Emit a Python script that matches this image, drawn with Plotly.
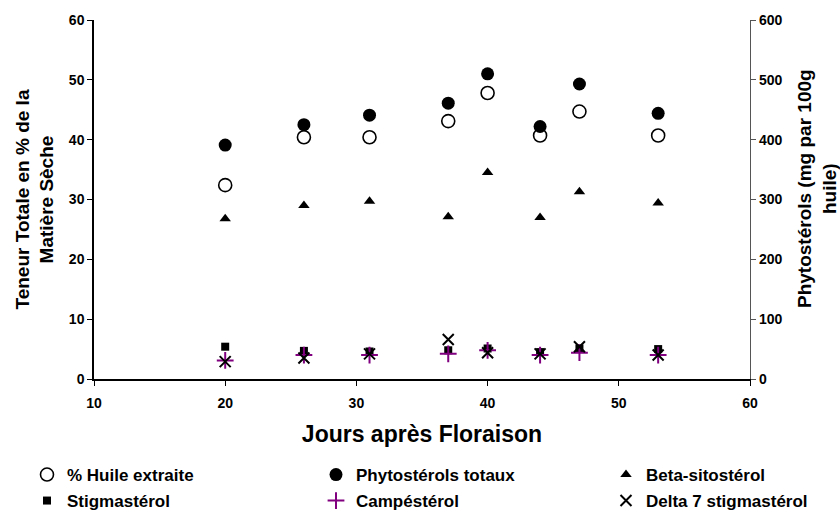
import plotly.graph_objects as go

jours = [20, 26, 31, 37, 40, 44, 47, 53]
huile = [32.4, 40.4, 40.4, 43.1, 47.8, 40.7, 44.7, 40.7]
phyto_totaux = [391, 425, 441, 461, 510, 422, 493, 444]
beta_sito = [268, 290, 297, 271, 345, 270, 313, 294]
stigma = [54, 47, 46, 48, 51, 45, 51, 50]
campe = [31, 40, 40, 42, 48, 40, 44, 40]
delta7 = [29, 35, 42, 66, 44, 42, 54, 40]

title_left = "Teneur Totale en % de la<br>Matière Sèche"
title_right = "Phytostérols (mg par 100g<br>huile)"
title_x = "Jours après Floraison"

FONT = "Liberation Sans, Arial, sans-serif"

fig = go.Figure()
fig.add_trace(go.Scatter(x=jours, y=huile, mode="markers", name="% Huile extraite",
                         marker=dict(symbol="circle-open", size=13, color="black", line=dict(width=1.6, color="black")),
                         legend="legend"))
fig.add_trace(go.Scatter(x=jours, y=phyto_totaux, mode="markers", name="Phytostérols totaux", yaxis="y2",
                         marker=dict(symbol="circle", size=13, color="black"), legend="legend2"))
fig.add_trace(go.Scatter(x=jours, y=beta_sito, mode="markers", name="Beta-sitostérol", yaxis="y2",
                         marker=dict(symbol="triangle-up", size=10, color="black"), legend="legend3"))
fig.add_trace(go.Scatter(x=jours, y=stigma, mode="markers", name="Stigmastérol", yaxis="y2",
                         marker=dict(symbol="square", size=8, color="black"), legend="legend4"))
fig.add_trace(go.Scatter(x=jours, y=campe, mode="markers", name="Campéstérol", yaxis="y2",
                         marker=dict(symbol="cross-thin", size=12, color="#800080", line=dict(width=2, color="#800080")),
                         legend="legend5"))
fig.add_trace(go.Scatter(x=jours, y=delta7, mode="markers", name="Delta 7 stigmastérol", yaxis="y2",
                         marker=dict(symbol="x-thin", size=11, color="black", line=dict(width=2, color="black")),
                         legend="legend6"))

tickfont = dict(family=FONT, size=14, color="black", weight="bold")
axis_common = dict(showgrid=False, zeroline=False, showline=True,
                   ticks="outside", ticklen=5, tickfont=tickfont)

legend_common = dict(orientation="v", xref="container", yref="container", xanchor="left", yanchor="middle",
                     itemsizing="trace", visible=True,
                     font=dict(family=FONT, size=17, color="black", weight="bold"),
                     bgcolor="rgba(0,0,0,0)", itemwidth=30)

W, H = 840, 510
col_x = [27, 316, 606]
row_y = [475, 501]

legends = {}
names = ["legend", "legend2", "legend3", "legend4", "legend5", "legend6"]
for i, nm in enumerate(names):
    legends[nm] = dict(x=col_x[i % 3] / W, y=1 - row_y[i // 3] / H, **legend_common)

title_font = dict(family=FONT, size=19, color="black", weight="bold")

fig.update_layout(
    width=W, height=H,
    showlegend=True,
    margin=dict(l=94, r=90, t=20, b=131, autoexpand=False),
    plot_bgcolor="white", paper_bgcolor="white",
    font=dict(family=FONT, color="black"),
    xaxis=dict(range=[10, 60], dtick=10, tick0=10, linecolor="black", linewidth=1.5, tickcolor="black",
               ticklabelstandoff=5,
               title=dict(text=title_x, font=dict(family=FONT, size=23, weight="bold"), standoff=16),
               **axis_common),
    yaxis=dict(range=[0, 60], dtick=10, linecolor="black", linewidth=1.5, tickcolor="black",
               **axis_common),
    yaxis2=dict(range=[0, 600], dtick=100, overlaying="y", side="right", linecolor="#555", linewidth=1.2,
                tickcolor="#555",
                **axis_common),
    annotations=[
        dict(text=title_left, xref="paper", yref="paper", x=(34 - 94) / 656, y=0.5, textangle=-90,
             showarrow=False, font=title_font, xanchor="center", yanchor="middle"),
        dict(text=title_right, xref="paper", yref="paper", x=(817 - 94) / 656, y=(379 - 189) / 359, textangle=-90,
             showarrow=False, font=title_font, xanchor="center", yanchor="middle"),
    ],
    **legends,
)

fig.write_html("out.html", config={"displayModeBar": False},
               post_script="document.body.style.margin='0';")
